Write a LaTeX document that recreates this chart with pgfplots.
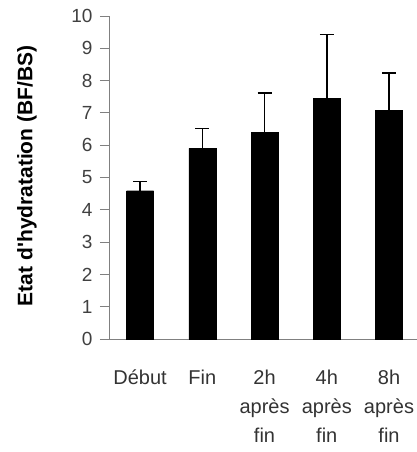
\documentclass[border=0pt]{standalone}
\usepackage{fontspec}
\setmainfont{Liberation Sans}[Ligatures=TeXOff]
\usepackage{pgfplots}
\pgfplotsset{compat=1.18}
\definecolor{axgray}{RGB}{128,128,128}
\begin{document}
\begin{tikzpicture}
\begin{axis}[
  name=ax,
  scale only axis,
  width=308pt, height=323pt,
  xmin=-0.5, xmax=4.45,
  ymin=0, ymax=10,
  axis lines*=left,
  axis line style={axgray, line width=0.8pt},
  every tick/.style={axgray, line width=0.8pt},
  tick align=outside,
  ytick={0,1,...,10},
  major tick length=9pt,
  xtick={0,1,2,3,4},
  xticklabels={Début, Fin, 2h\\après\\fin, 4h\\après\\fin, 8h\\après\\fin},
  x tick style={draw=none},
  minor xtick={-0.5,0.5,1.5,2.5,3.5},
  minor x tick style={axgray, line width=0.8pt},
  minor tick length=7pt,
  /pgf/number format/assume math mode=true,
  yticklabel style={font=\fontsize{19}{19}\selectfont, text=black!75, xshift=-4pt},
  xticklabel style={font=\fontsize{20}{29}\selectfont, align=center, text=black!80, yshift=-18pt},
  ylabel={\textbf{Etat d'hydratation (BF/BS)}},
  every axis y label/.style={at={(axis description cs:-0.266,0.505)}, rotate=90, anchor=center, font=\fontsize{21}{21}\selectfont},
]
\addplot[ybar, bar width=27pt, fill=black, draw=black,
  error bars/.cd, y dir=plus, y explicit,
  error bar style={line width=1.5pt, black},
  error mark options={rotate=90, mark size=7pt, line width=1.5pt, black}]
  coordinates {
  (0,4.59) +- (0,0.29)
  (1,5.90) +- (0,0.61)
  (2,6.39) +- (0,1.23)
  (3,7.45) +- (0,1.97)
  (4,7.07) +- (0,1.17)
  };
\end{axis}
\pgfresetboundingbox
\path[use as bounding box] ([shift={(-109pt,-113pt)}]ax.south west) rectangle ([shift={(308pt,339pt)}]ax.south west);
\end{tikzpicture}
\end{document}
